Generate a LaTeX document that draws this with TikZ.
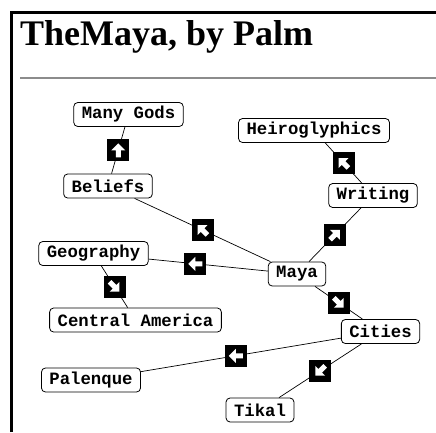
\documentclass[tikz,border=0pt]{standalone}
\usepackage{fontspec}
\setmainfont{Liberation Serif}
\setmonofont{Liberation Mono}
\usetikzlibrary{
  calc,         % Midpoints $(a)!0.5!(b)$
  positioning,
}
% White arrow on a direction box: #1 = box, #2 = direction in degrees
\newcommand{\dirarrow}[2]{
  \fill[white, shift={(#1)}, rotate=#2]
    (7,0) -- (0,7) -- (0,2.5) -- (-7,2.5) -- (-7,-2.5) -- (0,-2.5) -- (0,-7) -- cycle;
}
\tikzset{
  topic/.style={
    draw,
    fill=white,
    line width=0.8pt,
    rounded corners=4pt,
    inner xsep=8pt,
    inner ysep=0pt,
    minimum height=24pt,
    font=\ttfamily\bfseries\fontsize{17.3}{17.3}\selectfont
  },
  link/.style={
    line width=0.7pt
  },
  dirbox/.style={
    fill=black,
    minimum size=22pt,
    inner sep=0pt
  }
}

\begin{document}
\begin{tikzpicture}[x=1pt,y=-1pt]
\useasboundingbox (0,0) rectangle (436,432);
% frame and heading
\draw[line width=3pt] (11,432) -- (11,12.5) -- (436,12.5);
\node[anchor=base west, inner sep=0pt, font=\bfseries\fontsize{36}{36}\selectfont] (title) at (20,45) {TheMaya, by Palm};
\draw[black!45, line width=1.5pt] (20,78) -- (436,78);

% topics
\node[topic] (maya)      at (297,274)   {Maya};
\node[topic] (beliefs)   at (108,186)   {Beliefs};
\node[topic] (manygods)  at (128.5,114.5) {Many Gods};
\node[topic] (writing)   at (373,195.5) {Writing};
\node[topic] (heiro)     at (314,130.5) {Heiroglyphics};
\node[topic] (geography) at (93.5,253.5) {Geography};
\node[topic] (centralam) at (135.5,320) {Central America};
\node[topic] (cities)    at (380.5,331.5) {Cities};
\node[topic] (palenque)  at (91,380)    {Palenque};
\node[topic] (tikal)     at (260,410)   {Tikal};

% links
\draw[link] (maya) -- (beliefs);
\draw[link] (beliefs) -- (manygods);
\draw[link] (maya) -- (writing);
\draw[link] (writing) -- (heiro);
\draw[link] (maya) -- (geography);
\draw[link] (geography) -- (centralam);
\draw[link] (maya) -- (cities);
\draw[link] (cities) -- (palenque);
\draw[link] (cities) -- (tikal);

% direction boxes
\node[dirbox] (d1) at ($(maya)!0.5!(beliefs)$) {};
\node[dirbox] (d2) at ($(beliefs)!0.5!(manygods)$) {};
\node[dirbox] (d3) at ($(maya)!0.5!(writing)$) {};
\node[dirbox] (d4) at ($(writing)!0.5!(heiro)$) {};
\node[dirbox] (d5) at ($(maya)!0.5!(geography)$) {};
\node[dirbox] (d6) at ($(geography)!0.5!(centralam)$) {};
\node[dirbox] (d7) at ($(maya)!0.5!(cities)$) {};
\node[dirbox] (d8) at ($(cities)!0.5!(palenque)$) {};
\node[dirbox] (d9) at ($(cities)!0.5!(tikal)$) {};
\dirarrow{d1}{135}
\dirarrow{d2}{90}
\dirarrow{d3}{45}
\dirarrow{d4}{135}
\dirarrow{d5}{180}
\dirarrow{d6}{-45}
\dirarrow{d7}{-45}
\dirarrow{d8}{180}
\dirarrow{d9}{-135}
\end{tikzpicture}
\end{document}
